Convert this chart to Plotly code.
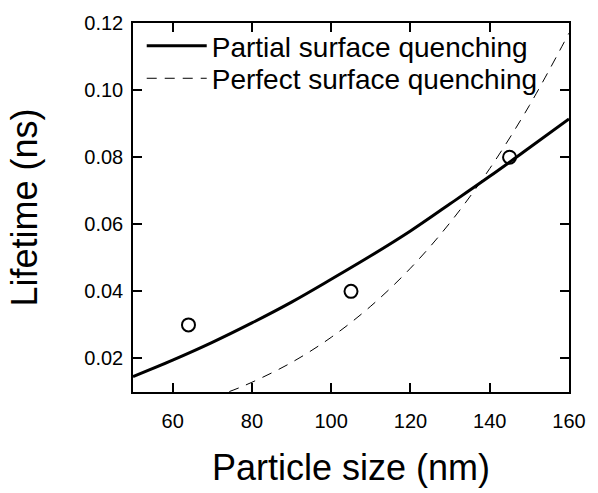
import plotly.graph_objects as go

# Measured data points
size_nm = [64, 105, 145]
lifetime_ns = [0.030, 0.040, 0.080]

# Partial surface quenching curve
partial_x = [50, 60, 70, 80, 90, 100, 110, 120, 130, 140, 150, 160]
partial_y = [0.0146, 0.0195, 0.0248, 0.0306, 0.0368, 0.0436, 0.0506, 0.0580, 0.0661, 0.0743, 0.0828, 0.0914]

# Perfect surface quenching curve
perfect_x = [70, 74, 80, 90, 100, 110, 120, 130, 140, 150, 160]
perfect_y = [0.0085, 0.0100, 0.0129, 0.0188, 0.0263, 0.0356, 0.0469, 0.0605, 0.0766, 0.0954, 0.1170]

FONT = "Liberation Sans, Arial, sans-serif"

fig = go.Figure()
fig.add_trace(go.Scatter(x=partial_x, y=partial_y, mode="lines", name="Partial surface quenching",
                         legend="legend",
                         line=dict(color="black", width=3, shape="spline")))
fig.add_trace(go.Scatter(x=perfect_x, y=perfect_y, mode="lines", name="Perfect surface quenching",
                         legend="legend2",
                         line=dict(color="black", width=1, dash="10px,8px", shape="spline")))
fig.add_trace(go.Scatter(x=size_nm, y=lifetime_ns, mode="markers", showlegend=False,
                         marker=dict(symbol="circle-open", size=13, color="black", line=dict(width=2))))

axis_common = dict(showline=True, mirror="ticks", linecolor="black", linewidth=1.5,
                   ticks="inside", ticklen=9, tickwidth=1.5, tickcolor="black",
                   showgrid=False, zeroline=False,
                   tickfont=dict(family=FONT, size=20, color="black"))

legend_common = dict(x=0.02, xanchor="left", yanchor="middle", bgcolor="rgba(0,0,0,0)",
                     font=dict(family=FONT, size=28, color="black"), itemwidth=60)

fig.update_layout(
    width=598, height=493,
    margin=dict(l=133, r=17, t=12, b=96),
    paper_bgcolor="white", plot_bgcolor="white",
    font=dict(family=FONT, color="black"),
    xaxis=dict(range=[50, 160], tick0=0, dtick=20, ticklabelstandoff=10,
               title=dict(text="Particle size (nm)", font=dict(family=FONT, size=36), standoff=24),
               **axis_common),
    yaxis=dict(range=[0.01, 0.12], tick0=0, dtick=0.02, tickformat=".2f", ticklabelstandoff=4,
               title=dict(text="Lifetime (ns)", font=dict(family=FONT, size=36), standoff=36),
               **axis_common),
    legend=dict(y=0.9377, **legend_common),
    legend2=dict(y=0.8494, **legend_common),
)

fig.write_html("out.html")
